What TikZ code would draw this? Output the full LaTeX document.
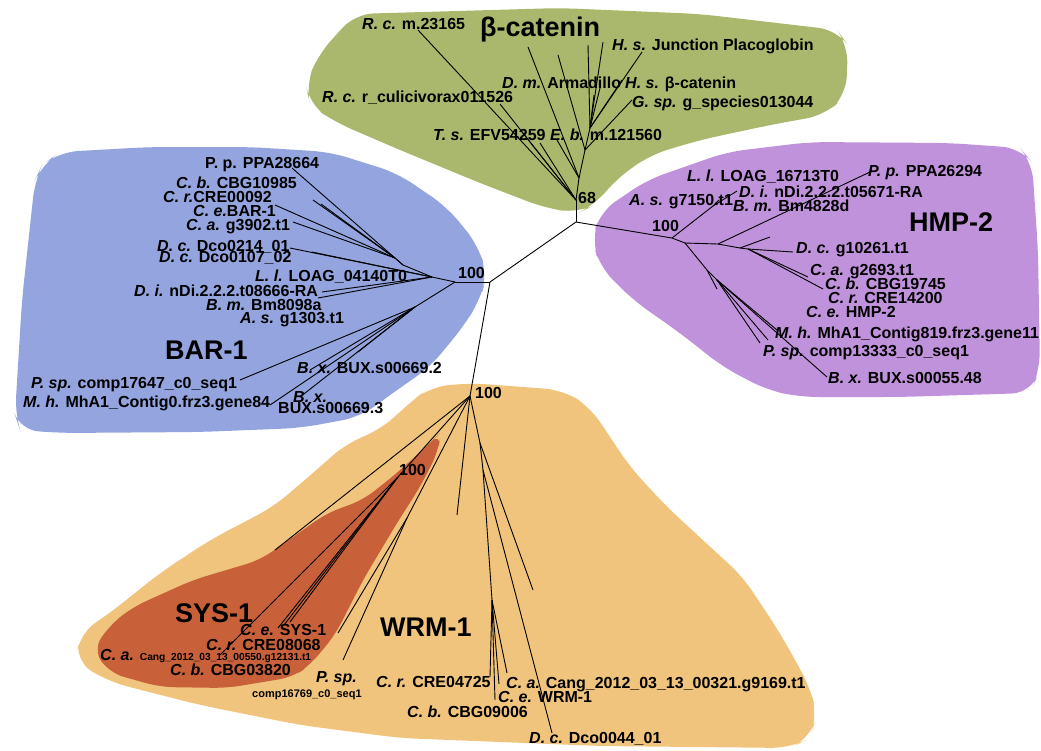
\documentclass[tikz,border=0pt]{standalone}
\usepackage{fontspec}
\setmainfont{Liberation Sans}
\definecolor{cgreen}{RGB}{169,184,108}
\definecolor{cblue}{RGB}{148,164,222}
\definecolor{cpurple}{RGB}{193,146,220}
\definecolor{corange}{RGB}{241,196,125}
\definecolor{cred}{RGB}{200,96,58}
\newcommand\gn[1]{\textit{#1}}
\newcommand\smalltxt{\fontsize{10.2}{12}\selectfont}
\tikzset{
  edge/.style={line width=0.9pt, black},
  blob/.style={rounded corners=18pt},
  lab/.style={font=\fontsize{16}{18}\selectfont\bfseries, anchor=base west, inner sep=0pt},
  biglab/.style={font=\fontsize{27}{30}\selectfont\bfseries, anchor=base west, inner sep=0pt},
  smalllab/.style={font=\fontsize{11}{12}\selectfont\bfseries, anchor=base west, inner sep=0pt},
}
\begin{document}
\begin{tikzpicture}[x=1pt,y=-1pt]
\useasboundingbox (0,0) rectangle (1041,750);
% ---------- clade backgrounds ----------
\fill[cgreen, blob] (355,14) -- (560,8) -- (700,14) -- (837,30) -- (848,45) -- (846,95) -- (825,115) -- (770,125) -- (700,140) -- (650,155) -- (615,180) -- (595,205) -- (578,213) -- (545,208) -- (480,183) -- (400,150) -- (335,122) -- (310,105) -- (306,85) -- (318,55) -- cycle;
\fill[cblue, blob] (42,165) -- (60,152) -- (150,147) -- (250,147) -- (330,152) -- (397,173) -- (447,207) -- (478,245) -- (487,275) -- (480,300) -- (463,327) -- (430,367) -- (390,395) -- (360,417) -- (300,428) -- (200,432) -- (60,433) -- (20,430) -- (15,415) -- (22,300) -- (35,180) -- cycle;
\fill[cpurple, blob] (600,212) -- (647,180) -- (727,152) -- (810,142) -- (950,143) -- (1020,148) -- (1032,162) -- (1038,250) -- (1040,370) -- (1030,393) -- (900,397) -- (800,397) -- (767,390) -- (723,367) -- (680,333) -- (633,300) -- (600,267) -- (592,240) -- cycle;
\fill[corange, blob] (430,387) -- (470,383) -- (563,390) -- (590,407) -- (630,467) -- (667,507) -- (743,577) -- (780,633) -- (810,687) -- (817,715) -- (810,738) -- (790,748) -- (600,746) -- (400,738) -- (300,725) -- (200,705) -- (110,682) -- (76,662) -- (80,633) -- (110,613) -- (160,573) -- (210,540) -- (273,507) -- (313,473) -- (347,443) -- (380,430) -- (413,400) -- cycle;
\fill[cred, rounded corners=14pt] (93,650) -- (110,625) -- (133,607) -- (193,580) -- (260,560) -- (293,537) -- (327,513) -- (363,500) -- (397,473) -- (430,443) -- (441,432) -- (438,452) -- (420,487) -- (397,523) -- (363,580) -- (335,635) -- (310,665) -- (293,677) -- (227,688) -- (160,687) -- (110,673) -- cycle;
% ---------- tree coordinates ----------
% centre
\coordinate (c0) at (576,222);
\coordinate (c1) at (490,282);
% green
\coordinate (g0) at (576,200);
\coordinate (g1) at (579,178);
\coordinate (g2) at (585,150);
\coordinate (g3) at (590,128);
\coordinate (gRc1) at (418,30);
\coordinate (gRc2) at (500,104);
\coordinate (gTs1) at (540,143);
\coordinate (gTs2) at (522,132);
\coordinate (gEb) at (557,140);
\coordinate (gDm) at (528,47);
\coordinate (gA) at (558,55);
\coordinate (gB) at (588,45);
\coordinate (gC) at (603,42);
\coordinate (gHs1) at (642,52);
\coordinate (gHs2) at (622,80);
\coordinate (gGs) at (632,100);
\coordinate (gS1) at (600,88);
\coordinate (gS2) at (594,95);
% blue
\coordinate (b0) at (455,282);
\coordinate (b1) at (432,277);
\coordinate (b2) at (415,307);
\coordinate (b3) at (403,265);
\coordinate (b4) at (395,258);
\coordinate (bPp) at (292,168);
\coordinate (bCb) at (313,200);
\coordinate (bCb2) at (321,204);
\coordinate (bCr) at (275,205);
\coordinate (bCa) at (293,222);
\coordinate (bDc) at (290,248);
\coordinate (bDc2) at (312,252);
\coordinate (bDi) at (322,292);
\coordinate (bBm) at (318,298);
\coordinate (bPs) at (240,380);
\coordinate (bMh) at (270,405);
\coordinate (bBx2) at (310,370);
\coordinate (bBx3) at (300,397);
\coordinate (bS) at (358,352);
% purple
\coordinate (p0) at (672,238);
\coordinate (pa) at (713,206);
\coordinate (p1) at (685,243);
\coordinate (p2) at (718,244);
\coordinate (p3) at (740,248);
\coordinate (p4) at (748,249);
\coordinate (p5) at (707,270);
\coordinate (p6) at (717,280);
\coordinate (pAs) at (719,200);
\coordinate (pLl) at (737,191);
\coordinate (pPp) at (870,172);
\coordinate (pS) at (770,237);
\coordinate (pDc) at (793,252);
\coordinate (pCa) at (808,277);
\coordinate (pCb) at (823,289);
\coordinate (pS2) at (717,289);
\coordinate (pPs) at (760,343);
\coordinate (pMh) at (768,340);
\coordinate (pCe) at (777,330);
\coordinate (pBx) at (827,377);
% orange
\coordinate (o0) at (470,396);
\coordinate (oL) at (275,550);
\coordinate (s0) at (398,477);
\coordinate (sCa) at (220,655);
\coordinate (sCe) at (278,628);
\coordinate (sCr) at (284,625);
\coordinate (sCb) at (290,622);
\coordinate (q0) at (407,518);
\coordinate (qA) at (338,633);
\coordinate (qB) at (343,660);
\coordinate (oS) at (457,515);
\coordinate (o1) at (480,443);
\coordinate (o2) at (483,470);
\coordinate (o3) at (492,600);
\coordinate (oR) at (533,590);
\coordinate (oDc) at (552,733);
\coordinate (oCb) at (495,700);
\coordinate (oCr) at (490,677);
\coordinate (oCe) at (499,684);
\coordinate (oCa) at (507,673);
% ---------- tree edges ----------
\draw[edge] (g0) -- (c0);
\draw[edge] (c0) -- (p0);
\draw[edge] (c0) -- (c1);
\draw[edge] (c1) -- (b0);
\draw[edge] (c1) -- (o0);
% green
\draw[edge] (g0) -- (gRc1);
\draw[edge] (g0) -- (gRc2);
\draw[edge] (g0) -- (gTs1);
\draw[edge] (g0) -- (gTs2);
\draw[edge] (g0) -- (g1);
\draw[edge] (g1) -- (gEb);
\draw[edge] (g1) -- (g2);
\draw[edge] (g1) -- (gDm);
\draw[edge] (g2) -- (gA);
\draw[edge] (g2) -- (g3);
\draw[edge] (g2) -- (gGs);
\draw[edge] (g3) -- (gB);
\draw[edge] (g3) -- (gC);
\draw[edge] (g3) -- (gHs1);
\draw[edge] (g3) -- (gHs2);
\draw[edge] (g3) -- (gS1);
\draw[edge] (g3) -- (gS2);
% blue
\draw[edge] (b0) -- (b1);
\draw[edge] (b0) -- (b2);
\draw[edge] (b1) -- (b3);
\draw[edge] (b3) -- (b4);
\draw[edge] (b3) -- (bPp);
\draw[edge] (b4) -- (bCb);
\draw[edge] (b4) -- (bCb2);
\draw[edge] (b4) -- (bCr);
\draw[edge] (b4) -- (bCa);
\draw[edge] (b1) -- (bDc);
\draw[edge] (b1) -- (bDc2);
\draw[edge] (b1) -- (bDi);
\draw[edge] (b1) -- (bBm);
\draw[edge] (b2) -- (bPs);
\draw[edge] (b2) -- (bMh);
\draw[edge] (b2) -- (bBx2);
\draw[edge] (b2) -- (bBx3);
\draw[edge] (b2) -- (bS);
% purple
\draw[edge] (p0) -- (pa);
\draw[edge] (pa) -- (pAs);
\draw[edge] (pa) -- (pLl);
\draw[edge] (p0) -- (p1);
\draw[edge] (p1) -- (p2);
\draw[edge] (p2) -- (pPp);
\draw[edge] (p2) -- (p3);
\draw[edge] (p3) -- (pS);
\draw[edge] (p3) -- (p4);
\draw[edge] (p4) -- (pDc);
\draw[edge] (p4) -- (pCa);
\draw[edge] (p4) -- (pCb);
\draw[edge] (p1) -- (p5);
\draw[edge] (p5) -- (pS2);
\draw[edge] (p5) -- (p6);
\draw[edge] (p6) -- (pPs);
\draw[edge] (p6) -- (pMh);
\draw[edge] (p6) -- (pCe);
\draw[edge] (p6) -- (pBx);
% orange
\draw[edge] (o0) -- (oL);
\draw[edge] (o0) -- (s0);
\draw[edge] (s0) -- (sCa);
\draw[edge] (s0) -- (sCe);
\draw[edge] (s0) -- (sCr);
\draw[edge] (s0) -- (sCb);
\draw[edge] (o0) -- (q0);
\draw[edge] (q0) -- (qA);
\draw[edge] (q0) -- (qB);
\draw[edge] (o0) -- (oS);
\draw[edge] (o0) -- (o1);
\draw[edge] (o1) -- (oR);
\draw[edge] (o1) -- (o2);
\draw[edge] (o2) -- (oDc);
\draw[edge] (o2) -- (o3);
\draw[edge] (o3) -- (oCb);
\draw[edge] (o3) -- (oCr);
\draw[edge] (o3) -- (oCe);
\draw[edge] (o3) -- (oCa);
% ---------- labels: green ----------
\node[biglab] (Tbcat) at (480,36.5) {β-catenin};
\node[lab] (tRc1) at (362,29.5) {\gn{R. c.} m.23165};
\node[lab] (tHs1) at (612,50.5) {\gn{H. s.} Junction Placoglobin};
\node[lab] (tDm) at (502,88) {\gn{D. m.} Armadillo};
\node[lab] (tHs2) at (625,88.5) {\gn{H. s.} β-catenin};
\node[lab] (tRc2) at (322,102.5) {\gn{R. c.} r\_culicivorax011526};
\node[lab] (tGs) at (632,107.5) {\gn{G. sp.} g\_species013044};
\node[lab] (tTs) at (433,140.5) {\gn{T. s.} EFV54259};
\node[lab] (tEb) at (550,140.5) {\gn{E. b.} m.121560};
\node[lab] (t68) at (578,203.5) {68};
% ---------- labels: blue ----------
\node[biglab] (Tbar) at (165,359.5) {BAR-1};
\node[lab] (tbPp) at (205,168.5) {P. p. PPA28664};
\node[lab] (tbCb) at (176,188.5) {\gn{C. b.} CBG10985};
\node[lab] (tbCr) at (163,202.5) {\gn{C. r.}CRE00092};
\node[lab] (tbCe) at (193,216.5) {\gn{C. e.}BAR-1};
\node[lab] (tbCa) at (186,230.5) {\gn{C. a.} g3902.t1};
\node[lab] (tbDc1) at (157,251.5) {\gn{D. c.} Dco0214\_01};
\node[lab] (tbDc2) at (159,262.5) {\gn{D. c.} Dco0107\_02};
\node[lab] (tbLl) at (255,281.5) {\gn{L. l.} LOAG\_04140T0};
\node[lab] (tbDi) at (134,296.5) {\gn{D. i.} nDi.2.2.2.t08666-RA};
\node[lab] (tbBm) at (206,310.5) {\gn{B. m.} Bm8098a};
\node[lab] (tbAs) at (240,323.5) {\gn{A. s.} g1303.t1};
\node[lab] (tbPs) at (31,388.5) {\gn{P. sp.} comp17647\_c0\_seq1};
\node[lab] (tbBx2) at (297,373.5) {\gn{B. x.} BUX.s00669.2};
\node[lab] (tbMh) at (23,407.5) {\gn{M. h.} MhA1\_Contig0.frz3.gene84};
\node[lab] (tbBx3a) at (293,402.5) {\gn{B. x.}};
\node[lab] (tbBx3b) at (278,413.5) {BUX.s00669.3};
\node[lab] (tb100) at (458,278.5) {100};
% ---------- labels: purple ----------
\node[biglab] (Thmp) at (909,231.5) {HMP-2};
\node[lab] (tpLl) at (687,181.5) {\gn{L. l.} LOAG\_16713T0};
\node[lab] (tpPp) at (868,176.5) {\gn{P. p.} PPA26294};
\node[lab] (tpDi) at (739,197.5) {\gn{D. i.} nDi.2.2.2.t05671-RA};
\node[lab] (tpAs) at (629,205.5) {\gn{A. s.} g7150.t1};
\node[lab] (tpBm) at (733,211.5) {\gn{B. m.} Bm4828d};
\node[lab] (tp100) at (652,231.5) {100};
\node[lab] (tpDc) at (796,253.5) {\gn{D. c.} g10261.t1};
\node[lab] (tpCa) at (810,275.5) {\gn{C. a.} g2693.t1};
\node[lab] (tpCb) at (825,289.5) {\gn{C. b.} CBG19745};
\node[lab] (tpCr) at (828,303.5) {\gn{C. r.} CRE14200};
\node[lab] (tpCe) at (806,317.5) {\gn{C. e.} HMP-2};
\node[lab] (tpMh) at (775,338.5) {\gn{M. h.} MhA1\_Contig819.frz3.gene11};
\node[lab] (tpPs) at (763,356.5) {\gn{P. sp.} comp13333\_c0\_seq1};
\node[lab] (tpBx) at (828,383.5) {\gn{B. x.} BUX.s00055.48};
% ---------- labels: orange / red ----------
\node[lab] (to100) at (475,398.5) {100};
\node[lab] (ts100) at (399,475.5) {100};
\node[biglab] (Tsys) at (175,622.5) {SYS-1};
\node[biglab] (Twrm) at (380,636.5) {WRM-1};
\node[lab] (tsCe) at (240,635.5) {\gn{C. e.} SYS-1};
\node[lab] (tsCr) at (206,650.5) {\gn{C. r.} CRE08068};
\node[lab] (tsCa) at (100,660.5) {\gn{C. a.} {\smalltxt Cang\_2012\_03\_13\_00550.g12131.t1}};
\node[lab] (tsCb) at (170,675.5) {\gn{C. b.} CBG03820};
\node[lab] (tqPs) at (316,682.5) {\gn{P. sp.}};
\node[smalllab] (tqComp) at (252,697.5) {comp16769\_c0\_seq1};
\node[lab] (toCr) at (376,687.5) {\gn{C. r.} CRE04725};
\node[lab] (toCa) at (506,688.5) {\gn{C. a.} Cang\_2012\_03\_13\_00321.g9169.t1};
\node[lab] (toCe) at (498,702.5) {\gn{C. e.} WRM-1};
\node[lab] (toCb) at (407,717.5) {\gn{C. b.} CBG09006};
\node[lab] (toDc) at (529,743.5) {\gn{D. c.} Dco0044\_01};
\end{tikzpicture}
\end{document}
